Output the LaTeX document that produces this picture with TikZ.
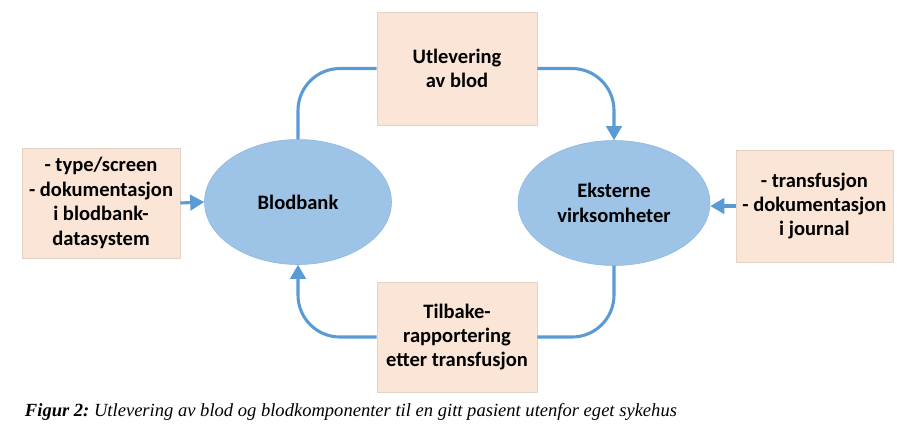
\documentclass[tikz,border=0pt]{standalone}
\usepackage{fontspec}
\setmainfont{Carlito}
\newfontfamily\capfont{Liberation Serif}
\usetikzlibrary{arrows.meta,shapes.geometric}
\definecolor{boxfill}{HTML}{FBE5D6}
\definecolor{boxline}{HTML}{E3D3C6}
\definecolor{ellfill}{HTML}{9DC3E6}
\definecolor{ellline}{HTML}{8DB6DE}
\definecolor{flowblue}{HTML}{5B9BD5}

\begin{document}
\begin{tikzpicture}[
  infobox/.style={draw=boxline,fill=boxfill,align=center,inner sep=0pt,
    font=\fontsize{14.6}{17.4}\selectfont\bfseries},
  unit/.style={ellipse,draw=ellline,fill=ellfill,align=center,inner sep=0pt,
    font=\fontsize{14.6}{17.4}\selectfont\bfseries},
  flow/.style={draw=flowblue,line width=2.2pt,rounded corners=1.05cm,
    -{Triangle[length=10pt,width=11pt]}},
  plain/.style={draw=flowblue,line width=2.2pt,rounded corners=1.05cm}
]
\useasboundingbox (0,0) rectangle (22.425,-10.7);

\node[infobox,minimum width=3.95cm,minimum height=2.75cm] (src) at (2.525,-5.075)
  {- type/screen\\- dokumentasjon\\i blodbank-\\datasystem};
\node[unit,minimum width=4.675cm,minimum height=3.125cm] (bank) at (7.45,-5.05) {Blodbank};
\node[infobox,minimum width=4.0cm,minimum height=2.825cm] (issue) at (11.425,-1.7125)
  {Utlevering\\av blod};
\node[unit,minimum width=4.8cm,minimum height=3.125cm] (ext) at (15.35,-5.075)
  {Eksterne\\virksomheter};
\node[infobox,minimum width=3.925cm,minimum height=2.8cm] (journal) at (20.36,-5.15)
  {- transfusjon\\- dokumentasjon\\i journal};
\node[infobox,minimum width=4.0cm,minimum height=2.75cm] (report) at (11.425,-8.425)
  {Tilbake-\\rapportering\\etter transfusjon};

\draw[flow] (src.east) -- (bank.west);
\draw[flow] (journal.west) -- (ext.east |- journal.west);
\draw[plain] (bank.north) |- (issue.west);
\draw[flow] (issue.east) -| (ext.north);
\draw[plain] (ext.south) |- (report.east);
\draw[flow] (report.west) -| (bank.south);

\node[anchor=west,font=\capfont\fontsize{13.2}{15}\selectfont\itshape] (caption) at (0.5,-10.3)
  {\textbf{Figur 2:}~Utlevering av blod og blodkomponenter til en gitt pasient utenfor eget sykehus};
\end{tikzpicture}
\end{document}
